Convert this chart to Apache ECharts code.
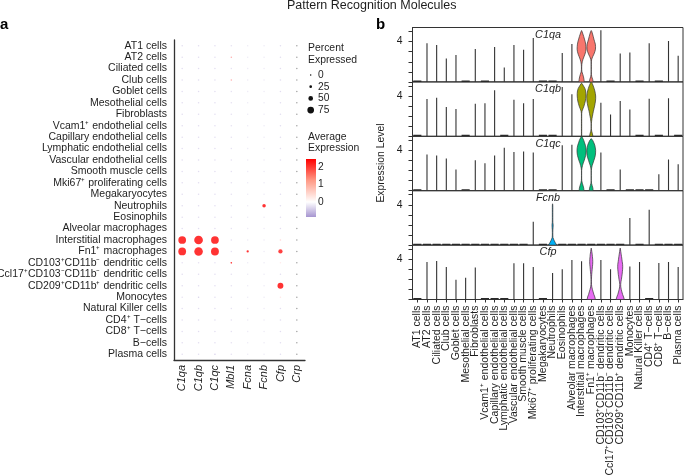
<!DOCTYPE html>
<html><head><meta charset="utf-8">
<script src="https://cdn.jsdelivr.net/npm/echarts@6/dist/echarts.min.js"></script>
<style>html,body{margin:0;padding:0;background:#fff}#c{width:685px;height:476px}</style>
</head><body><div id="c"></div>
<script>
// ---------- shared categories ----------
const cells = ["AT1 cells","AT2 cells","Ciliated cells","Club cells","Goblet cells","Mesothelial cells","Fibroblasts",
 "Vcam1⁺ endothelial cells","Capillary endothelial cells","Lymphatic endothelial cells","Vascular endothelial cells",
 "Smooth muscle cells","Mki67⁺ proliferating cells","Megakaryocytes","Neutrophils","Eosinophils","Alveolar macrophages",
 "Interstitial macrophages","Fn1⁺ macrophages","CD103⁺CD11b⁻ dendritic cells","Ccl17⁺CD103⁻CD11b⁻ dendritic cells",
 "CD209⁺CD11b⁺ dendritic cells","Monocytes","Natural Killer cells","CD4⁺ T−cells","CD8⁺ T−cells","B−cells","Plasma cells"];

// ---------- panel a: dot plot ----------
const genesA = ["C1qa","C1qb","C1qc","Mbl1","Fcna","Fcnb","Cfp","Crp"];
// percent expressed (one value per cell, in order)
const pctC1qa = [1,1,1,1,1,1,1,1,1,1,1,1,1,0,0,1,1,88,88,2,0,1,2,0,1,0,1,1];
const pctC1qb = [1,1,1,1,1,0,1,1,1,0,1,1,1,0,0,1,1,100,98,2,1,1,2,0,1,0,1,0];
const pctC1qc = [0,1,1,1,1,0,1,1,1,1,1,1,1,0,0,1,1,88,90,2,0,1,0,0,0,1,1,1];
const pctMbl1 = [0,5,0,5,0,0,0,0,0,0,0,0,0,0,0,0,0,0,0,12,0,0,0,0,0,0,0,0];
const pctFcna = [0,0,0,0,0,0,0,0,0,0,0,0,0,0,0,0,0,0,20,0,0,0,0,0,0,0,0,0];
const pctFcnb = [0,0,0,0,0,0,0,0,0,0,0,0,1,0,35,0,0,0,0,0,0,0,1,0,1,0,0,0];
const pctCfp  = [0,1,1,1,1,1,1,0,0,0,1,1,1,0,1,1,1,10,45,5,1,65,8,1,0,1,1,1];
const pctCrp  = [0,0,0,0,0,0,0,0,0,0,0,0,0,0,0,0,0,0,0,0,0,0,0,0,0,0,0,0];
// average (scaled) expression
const avgC1qa = [-0.35,-0.35,-0.35,-0.35,-0.35,-0.35,-0.35,-0.35,-0.35,-0.35,-0.35,-0.35,-0.35,-0.35,-0.35,-0.35,-0.35,2.5,2.5,-0.3,-0.35,-0.35,-0.3,-0.35,-0.35,-0.35,-0.35,-0.35];
const avgC1qb = [-0.35,-0.35,-0.35,-0.35,-0.35,-0.35,-0.35,-0.35,-0.35,-0.35,-0.35,-0.35,-0.35,-0.35,-0.35,-0.35,-0.35,2.5,2.5,-0.3,-0.35,-0.35,-0.45,-0.35,-0.35,-0.35,-0.35,-0.35];
const avgC1qc = [-0.35,-0.35,-0.35,-0.35,-0.35,-0.35,-0.35,-0.35,-0.35,-0.35,-0.35,-0.35,-0.35,-0.35,-0.35,-0.35,-0.35,2.5,2.5,-0.3,-0.35,-0.35,-0.35,-0.35,-0.35,-0.35,-0.35,-0.5];
const avgMbl1 = [-0.3,1.0,-0.3,1.0,-0.3,-0.3,-0.3,-0.3,-0.3,-0.3,-0.3,-0.3,-0.3,-0.3,-0.3,-0.3,-0.3,-0.3,-0.3,2.5,-0.3,-0.3,-0.3,-0.3,-0.3,-0.3,-0.3,-0.3];
const avgFcna = [-0.2,-0.2,-0.2,-0.2,-0.2,-0.2,-0.2,-0.2,-0.2,-0.2,-0.2,-0.2,-0.2,-0.2,-0.2,-0.2,-0.2,-0.2,2.5,-0.2,-0.2,-0.2,-0.2,-0.2,-0.2,-0.2,-0.2,-0.2];
const avgFcnb = [-0.2,-0.2,-0.2,-0.2,-0.2,-0.2,-0.2,-0.2,-0.2,-0.2,-0.2,-0.2,-0.2,-0.2,2.5,-0.2,-0.2,-0.2,-0.2,-0.2,-0.2,-0.2,-0.2,-0.2,-0.2,-0.2,-0.2,-0.2];
const avgCfp  = [-0.35,-0.35,-0.35,-0.35,-0.35,-0.35,-0.35,-0.35,-0.35,-0.35,-0.35,-0.35,-0.35,-0.35,-0.35,-0.35,-0.35,0.45,2.3,0.25,-0.35,2.5,0.3,-0.35,-0.35,-0.35,-0.35,-0.35];
const avgCrp  = [null,null,null,null,null,null,null,null,null,null,null,null,null,null,null,null,null,null,null,null,null,null,null,null,null,null,null,null];
const legendPct = [0,25,50,75];
const colorbarTicks = [2,1,0];

// ---------- panel b: stacked violins ----------
const genesB = ["C1qa","C1qb","C1qc","Fcnb","Cfp"];
// maximum expression per cell (0 = all cells zero, null = drawn as violin)
const maxC1qa = [0,3.83,3.67,2.33,2.67,0,3.27,0,3.47,1.43,3.67,3.2,4.37,0,0,2.87,3.77,null,null,5.13,0,2.83,2.93,0,3.83,0,4.07,2.6];
const maxC1qb = [0,3.7,3.83,2.9,2.7,0,3.23,3.27,4.57,0,3.63,3.27,3.7,0,0,4.9,4.17,null,null,3.33,2.17,3.5,2.67,0,3.73,0,3.77,0];
const maxC1qc = [0,3.6,3.5,3.2,2.1,0,3.03,2.73,3.5,4.27,3.85,3.88,3.8,0,0,4.5,4.57,null,null,3.8,0,2.1,0,0,0,1.63,3.1,2.62];
const maxFcnb = [0,0,0,0,0,0,0,0,0,0,0,0,2.33,0,null,0,0,0,0,0,0,0,2.68,0,3.5,0,0,0];
const maxCfp  = [0,3.73,3.83,3.23,1.97,2.17,3.17,0,0,0,3.6,3.6,3.23,0,2.63,3.0,3.93,3.8,null,3.93,3.0,null,3.27,3.73,0,3.63,3.73,3.23];
// violin half-widths (fraction of half band) at expression 0, 0.25, 0.5, ...
const vC1qaInt  = {cell:17, top:5.1,  w:[0.55,0.5,0.4,0.25,0.08,0.03,0.03,0.06,0.15,0.3,0.5,0.7,0.85,0.92,0.9,0.85,0.75,0.6,0.45,0.28,0.1]};
const vC1qaFn1  = {cell:18, top:5.1,  w:[0.4,0.3,0.12,0.04,0.02,0.02,0.02,0.02,0.03,0.1,0.3,0.55,0.75,0.88,0.9,0.85,0.7,0.55,0.42,0.28,0.12]};
const vC1qbInt  = {cell:17, top:5.27, w:[0.03,0.03,0.03,0.03,0.03,0.03,0.03,0.03,0.03,0.03,0.1,0.3,0.5,0.65,0.78,0.85,0.9,0.9,0.85,0.7,0.4,0.08]};
const vC1qbFn1  = {cell:18, top:5.5,  w:[0.35,0.25,0.1,0.03,0.03,0.03,0.08,0.15,0.25,0.35,0.45,0.58,0.7,0.8,0.88,0.92,0.92,0.85,0.75,0.6,0.42,0.2]};
const vC1qcInt  = {cell:17, top:5.43, w:[0.5,0.45,0.32,0.15,0.04,0.02,0.02,0.02,0.02,0.08,0.2,0.35,0.55,0.7,0.85,0.92,0.95,0.9,0.8,0.62,0.45,0.2]};
const vC1qcFn1  = {cell:18, top:5.17, w:[0.4,0.35,0.2,0.06,0.02,0.02,0.02,0.02,0.03,0.08,0.2,0.38,0.55,0.72,0.85,0.9,0.92,0.85,0.75,0.55,0.3]};
const vFcnbNeu  = {cell:14, top:4.1,  w:[0.85,0.55,0.28,0.08,0.05,0.05,0.06,0.1,0.12,0.06,0.05,0.05,0.05,0.05,0.05,0.05,0.04]};
const vCfpFn1   = {cell:18, top:5.1,  w:[0.85,0.75,0.55,0.4,0.25,0.12,0.06,0.04,0.05,0.07,0.1,0.15,0.2,0.25,0.3,0.32,0.3,0.25,0.2,0.12,0.05]};
const vCfpCD209 = {cell:21, top:5.1,  w:[0.85,0.7,0.5,0.35,0.22,0.12,0.1,0.15,0.25,0.32,0.4,0.45,0.5,0.52,0.5,0.42,0.35,0.28,0.2,0.12,0.05]};
const yTicksB = [0,1,2,3,4,5];
const yLabelsB = [4];

// ---------- build ----------
const FF = '"Liberation Sans", Arial, Helvetica, sans-serif';
const TXT = '#1e1e1e', AX = '#333';
const pctA = [pctC1qa,pctC1qb,pctC1qc,pctMbl1,pctFcna,pctFcnb,pctCfp,pctCrp];
const avgA = [avgC1qa,avgC1qb,avgC1qc,avgMbl1,avgFcna,avgFcnb,avgCfp,avgCrp];
const maxB = [maxC1qa,maxC1qb,maxC1qc,maxFcnb,maxCfp];
const violinsB = [[vC1qaInt,vC1qaFn1],[vC1qbInt,vC1qbFn1],[vC1qcInt,vC1qcFn1],[vFcnbNeu],[vCfpFn1,vCfpCD209]];
const violinFill = ['#F8766D','#A3A500','#00BF7D','#00B0F6','#E76BF3'];

const CB_HI = 2.46, CB_LO = -0.86;
function mix(a,b,t){const pa=[parseInt(a.slice(1,3),16),parseInt(a.slice(3,5),16),parseInt(a.slice(5,7),16)];
 const pb=[parseInt(b.slice(1,3),16),parseInt(b.slice(3,5),16),parseInt(b.slice(5,7),16)];
 return 'rgb('+pa.map((v,i)=>Math.round(v+(pb[i]-v)*t)).join(',')+')';}
function avgColor(v){
  if (v===null) return '#8c8c8c';
  if (v>=0) return mix('#ffffff','#ff0000',Math.min(v/CB_HI,1));
  return mix('#ffffff','#a695d0',Math.min(-v/(-CB_LO),1));
}
function dotSize(p){ return Math.max(1.5, 0.7+0.08*p); }

const dotData = [];
genesA.forEach((g,gi)=>{ cells.forEach((c,ci)=>{
  dotData.push({value:[gi,ci,pctA[gi][ci]], itemStyle:{color:avgColor(avgA[gi][ci])}});
});});

const PB_TOP = 27.5, PB_H = 54.4, PB_LEFT = 412.5, PB_W = 270.5;
const grids = [{left:174, top:40, width:131, height:320, outerBoundsMode:'none'}];
const xAxes = [{gridIndex:0, type:'category', data:genesA, boundaryGap:true,
  axisLine:{lineStyle:{color:AX,width:1.3}}, axisTick:{alignWithLabel:true,interval:0,length:3.5,lineStyle:{color:AX,width:1.1}},
  axisLabel:{rotate:90, interval:0, fontStyle:'italic', fontSize:11, color:TXT, margin:5, fontFamily:FF}, splitLine:{show:false}}];
const yAxes = [{gridIndex:0, type:'category', data:cells, inverse:true, boundaryGap:true,
  axisLine:{lineStyle:{color:AX,width:1.3}}, axisTick:{alignWithLabel:true,interval:0,length:3.5,lineStyle:{color:AX,width:1.1}},
  axisLabel:{interval:0, fontSize:10.5, color:TXT, margin:7, fontFamily:FF}, splitLine:{show:false}}];
const series = [{type:'scatter', xAxisIndex:0, yAxisIndex:0, data:dotData, symbol:'circle',
  symbolSize:(v)=>dotSize(v[2]), silent:true}];

function renderStem(params, api){
  const c = api.value(0), v = api.value(1);
  const bw = api.size([1,0])[0];
  const b = api.coord([c,0]);
  if (v===0) return {type:'line', shape:{x1:b[0]-bw*0.42,y1:b[1]-0.7,x2:b[0]+bw*0.42,y2:b[1]-0.7}, style:{stroke:'#2a2a2a',lineWidth:1.5}};
  const t = api.coord([c,v]);
  return {type:'line', shape:{x1:b[0],y1:b[1],x2:t[0],y2:t[1]}, style:{stroke:'#333',lineWidth:1.1}};
}
function makeViolin(list, fill){
  return function(params, api){
    const v = list[api.value(2)];
    const hw = api.size([1,0])[0]/2;
    const right=[], left=[];
    v.w.forEach((w,i)=>{const p=api.coord([v.cell,i*0.25]); right.push([p[0]+w*hw,p[1]]); left.push([p[0]-w*hw,p[1]]);});
    const t = api.coord([v.cell,v.top]);
    return {type:'polygon', shape:{points:right.concat([[t[0],t[1]]], left.reverse())},
      style:{fill:fill, stroke:'#333', lineWidth:0.7}};
  };
}

const graphics = [];
genesB.forEach((g,i)=>{
  const gi = i+1, last = (i===genesB.length-1);
  const top = PB_TOP + i*PB_H;
  grids.push({left:PB_LEFT, top:top, width:PB_W, height:PB_H, show:true, borderColor:AX, borderWidth:1, backgroundColor:'transparent', outerBoundsMode:'none'});
  xAxes.push({gridIndex:gi, type:'category', data:cells, boundaryGap:true,
    axisLine:{show:last, lineStyle:{color:AX}}, axisTick:{show:last, alignWithLabel:true, interval:0, length:3, lineStyle:{color:AX}},
    axisLabel:{show:last, rotate:90, fontSize:10.5, color:TXT, margin:6, fontFamily:FF, interval:0}, splitLine:{show:false}});
  yAxes.push({gridIndex:gi, type:'value', min:0, max:5.4, interval:1,
    axisLine:{show:true, lineStyle:{color:AX}},
    axisTick:{show:true, length:4, customValues:yTicksB, lineStyle:{color:AX}},
    axisLabel:{customValues:yLabelsB, formatter:(v)=>yLabelsB.indexOf(v)>=0?String(v):'', fontSize:10.4, color:TXT, margin:10, fontFamily:FF},
    splitLine:{show:false}});
  const stems = [];
  maxB[i].forEach((v,c)=>{ if (v!==null) stems.push([c,v]); });
  series.push({type:'custom', xAxisIndex:gi, yAxisIndex:gi, data:stems, renderItem:renderStem, encode:{x:0,y:1}, silent:true, clip:true});
  series.push({type:'custom', xAxisIndex:gi, yAxisIndex:gi, data:violinsB[i].map((v,k)=>[v.cell,v.top,k]),
    renderItem:makeViolin(violinsB[i], violinFill[i]), encode:{x:0,y:1}, silent:true, clip:true, z:3});
  graphics.push({type:'text', x:548, y:top+7.2, z:10, style:{text:g, fontStyle:'italic', fontSize:10.8, fill:TXT, align:'center', verticalAlign:'middle', fontFamily:FF}});
});

// titles / panel letters / legend
graphics.push({type:'text', x:287, y:5.5, style:{text:'Pattern Recognition Molecules', fontSize:12.5, fill:TXT, verticalAlign:'middle', fontFamily:FF}});
graphics.push({type:'text', x:0, y:25.2, style:{text:'a', fontSize:15, fontWeight:'bold', fill:'#000', verticalAlign:'middle', fontFamily:FF}});
graphics.push({type:'text', x:376, y:25.2, style:{text:'b', fontSize:15, fontWeight:'bold', fill:'#000', verticalAlign:'middle', fontFamily:FF}});
graphics.push({type:'text', x:381, y:163, rotation:Math.PI/2, style:{text:'Expression Level', fontSize:10.4, fill:TXT, align:'center', verticalAlign:'middle', fontFamily:FF}});
graphics.push({type:'text', x:308, y:48.4, style:{text:'Percent', fontSize:10.4, fill:TXT, verticalAlign:'middle', fontFamily:FF}});
graphics.push({type:'text', x:308, y:60, style:{text:'Expressed', fontSize:10.4, fill:TXT, verticalAlign:'middle', fontFamily:FF}});
legendPct.forEach((p,k)=>{
  const y = 75 + k*11.7;
  graphics.push({type:'circle', shape:{cx:310.7, cy:y, r:dotSize(p)/2}, style:{fill:'#111'}});
  graphics.push({type:'text', x:318, y:y, style:{text:String(p), fontSize:10.2, fill:TXT, verticalAlign:'middle', fontFamily:FF}});
});
graphics.push({type:'text', x:308, y:136.7, style:{text:'Average', fontSize:10.4, fill:TXT, verticalAlign:'middle', fontFamily:FF}});
graphics.push({type:'text', x:308, y:148, style:{text:'Expression', fontSize:10.4, fill:TXT, verticalAlign:'middle', fontFamily:FF}});
const CB_Y0 = 159, CB_H = 58;
graphics.push({type:'rect', shape:{x:306, y:CB_Y0, width:10, height:CB_H}, style:{fill:new echarts.graphic.LinearGradient(0,0,0,1,[
  {offset:0,color:'#ff0000'},{offset:(CB_HI-1.23)/(CB_HI-CB_LO),color:'#ff9a86'},{offset:CB_HI/(CB_HI-CB_LO),color:'#ffffff'},{offset:1,color:'#a695d0'}])}});
colorbarTicks.forEach(t=>{
  const y = CB_Y0 + (CB_HI-t)/(CB_HI-CB_LO)*CB_H;
  graphics.push({type:'text', x:318, y:y, style:{text:String(t), fontSize:10.2, fill:TXT, verticalAlign:'middle', fontFamily:FF}});
});

const chart = echarts.init(document.getElementById('c'));
chart.setOption({animation:false, textStyle:{fontFamily:FF}, grid:grids, xAxis:xAxes, yAxis:yAxes, series:series, graphic:graphics});
</script></body></html>
